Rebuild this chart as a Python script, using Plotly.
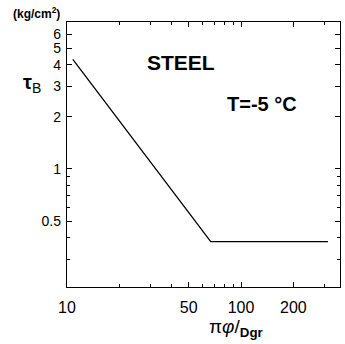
import plotly.graph_objects as go
import math

# data
x_vals = [10.8, 67, 316]
y_vals = [4.3, 0.38, 0.38]

x_tick_vals = [10, 50, 100, 200]
x_tick_text = ["10", "50", "100", "200"]
x_minor_vals = [20, 30, 40, 60, 70, 80, 90, 300]

y_tick_vals = [0.5, 1, 2, 3, 4, 5, 6]
y_tick_text = ["0.5", "1", "2", "3", "4", "5", "6"]
y_minor_vals = [0.3, 0.4, 0.6, 0.7, 0.8, 0.9, 7]

fig = go.Figure()
fig.add_trace(go.Scatter(x=x_vals, y=y_vals, mode="lines",
                         line=dict(color="black", width=1.3), showlegend=False))

axis_common = dict(
    type="log", showline=True, linecolor="black", linewidth=1.3,
    mirror="ticks", ticks="inside", ticklen=5, tickcolor="black",
    showgrid=False, zeroline=False,
)

L, R, T, B = 67, 5, 22, 57
W, H = 345, 344

fig.update_layout(
    width=W, height=H,
    margin=dict(l=L, r=R, t=T, b=B),
    plot_bgcolor="white", paper_bgcolor="white",
    xaxis=dict(range=[1, 2.569], tickmode="array", tickvals=x_tick_vals,
               ticktext=x_tick_text, ticklabelstandoff=6,
               tickfont=dict(family="Liberation Sans, Arial", size=16, color="black"),
               minor=dict(tickmode="array", tickvals=x_minor_vals, ticks="inside",
                          ticklen=3, tickcolor="black"),
               **axis_common),
    yaxis=dict(range=[math.log10(0.208), math.log10(7.07)], tickmode="array",
               tickvals=y_tick_vals, ticktext=y_tick_text, ticklabelstandoff=2,
               tickfont=dict(family="Liberation Sans, Arial", size=14, color="black"),
               minor=dict(tickmode="array", tickvals=y_minor_vals, ticks="inside",
                          ticklen=3, tickcolor="black"),
               **axis_common),
)

pw, ph = W - L - R, H - T - B


def add_text(text, px, py, size):
    fig.add_annotation(text=text, x=(px - L) / pw, y=(H - py - B) / ph,
                       xref="paper", yref="paper", xanchor="center", yanchor="middle",
                       showarrow=False,
                       font=dict(family="Liberation Sans, Arial", size=size, color="black"))


add_text("<b>STEEL</b>", 181, 63, 21)
add_text("<b>T=-5 °C</b>", 262, 104, 20)
add_text("<b>(kg/cm<sup>2</sup>)</b>", 36, 13, 12)
add_text("<b>τ</b><sub>B</sub>", 32, 84, 20)
add_text("π<i>φ</i>/<sub><b>Dgr</b></sub>", 236, 328, 19)

fig.write_html("out.html")
